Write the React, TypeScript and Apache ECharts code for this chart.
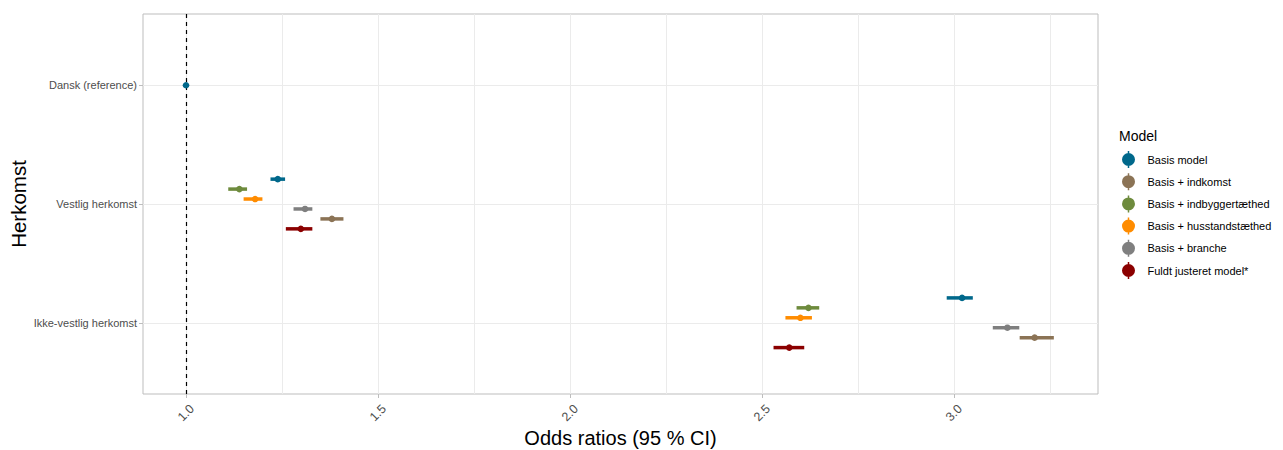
import React, { useEffect, useRef } from "react";
import * as echarts from "echarts";

const categories = ["Dansk (reference)", "Vestlig herkomst", "Ikke-vestlig herkomst"];
const models = [
  "Basis model",
  "Basis + indkomst",
  "Basis + indbyggertæthed",
  "Basis + husstandstæthed",
  "Basis + branche",
  "Fuldt justeret model*",
];
const colors = ["#00688B", "#8B7355", "#6E8B3D", "#FF8C00", "#7F7F7F", "#8B0000"];
// vertical dodge slot (top to bottom) of each model
const dodgeSlot = [0, 4, 1, 2, 3, 5];

// estimates and 95% CI per model, per category (Dansk, Vestlig, Ikke-vestlig)
const estBasis = [1.0, 1.239, 3.021];
const loBasis = [1.0, 1.22, 2.981];
const hiBasis = [1.0, 1.258, 3.049];
const estIndkomst = [null, 1.38, 3.21];
const loIndkomst = [null, 1.35, 3.171];
const hiIndkomst = [null, 1.41, 3.26];
const estIndbygger = [null, 1.139, 2.621];
const loIndbygger = [null, 1.11, 2.59];
const hiIndbygger = [null, 1.159, 2.649];
const estHusstand = [null, 1.18, 2.6];
const loHusstand = [null, 1.15, 2.561];
const hiHusstand = [null, 1.199, 2.63];
const estBranche = [null, 1.31, 3.139];
const loBranche = [null, 1.28, 3.101];
const hiBranche = [null, 1.329, 3.17];
const estFuldt = [null, 1.299, 2.571];
const loFuldt = [null, 1.26, 2.53];
const hiFuldt = [null, 1.329, 2.61];

const estimates = [estBasis, estIndkomst, estIndbygger, estHusstand, estBranche, estFuldt];
const lowers = [loBasis, loIndkomst, loIndbygger, loHusstand, loBranche, loFuldt];
const uppers = [hiBasis, hiIndkomst, hiIndbygger, hiHusstand, hiBranche, hiFuldt];

const xMajorTicks = [1.0, 1.5, 2.0, 2.5, 3.0];
const xMinorTicks = [1.25, 1.75, 2.25, 2.75, 3.25];

const FONT = "Liberation Sans, Arial, sans-serif";
const DODGE_STEP = 0.0837;
const LEGEND_ICON =
  "path://M6.75,0 L8.25,0 L8.25,17 L6.75,17 Z M1,8.5 A6.5,6.5 0 1 1 14,8.5 A6.5,6.5 0 1 1 1,8.5 Z";

export default function App() {
  const ref = useRef<HTMLDivElement>(null);
  useEffect(() => {
    if (!ref.current) return;
    const chart = echarts.init(ref.current, undefined, { renderer: "svg" });

    const series: any[] = [];
    // background grid
    series.push({
      type: "line",
      data: [],
      silent: true,
      z: 1,
      markLine: {
        silent: true,
        symbol: "none",
        label: { show: false },
        animation: false,
        data: [
          ...[...xMajorTicks, ...xMinorTicks].map((v) => ({
            xAxis: v,
            lineStyle: { color: "#ebebeb", width: 1, type: "solid" },
          })),
          ...[1, 2, 3].map((v) => ({
            yAxis: v,
            lineStyle: { color: "#ebebeb", width: 1, type: "solid" },
          })),
        ],
      },
    });
    // reference line at OR = 1
    series.push({
      type: "line",
      data: [],
      silent: true,
      z: 2,
      markLine: {
        silent: true,
        symbol: "none",
        label: { show: false },
        animation: false,
        data: [{ xAxis: 1.0, lineStyle: { color: "#000000", width: 1.2, type: [4, 4] } }],
      },
    });

    models.forEach((m, i) => {
      const data: any[] = [];
      categories.forEach((_c, ci) => {
        const e = estimates[i][ci];
        if (e === null || e === undefined) return;
        const single = estimates.filter((arr) => arr[ci] !== null).length === 1;
        const y = ci + 1 + (single ? 0 : (dodgeSlot[i] - 2.5) * DODGE_STEP);
        data.push([e, lowers[i][ci], uppers[i][ci], y]);
      });
      series.push({
        type: "custom",
        name: m,
        z: 5,
        itemStyle: { color: colors[i] },
        encode: { x: [0, 1, 2], y: 3 },
        renderItem: (params: any, api: any) => {
          const y = api.value(3);
          const p = api.coord([api.value(0), y]);
          const l = api.coord([api.value(1), y]);
          const h = api.coord([api.value(2), y]);
          return {
            type: "group",
            children: [
              {
                type: "line",
                shape: { x1: l[0], y1: l[1], x2: h[0], y2: h[1] },
                style: { stroke: colors[i], lineWidth: 3.5 },
              },
              {
                type: "circle",
                shape: { cx: p[0], cy: p[1], r: 3.3 },
                style: { fill: colors[i] },
              },
            ],
          };
        },
        data,
      });
    });

    chart.setOption({
      animation: false,
      textStyle: { fontFamily: FONT },
      title: {
        text: "Model",
        left: 1114,
        top: 124,
        textStyle: { fontSize: 14, fontWeight: "normal", color: "#000", fontFamily: FONT },
      },
      legend: {
        orient: "vertical",
        left: 1117,
        top: 146,
        itemWidth: 28,
        itemHeight: 17,
        itemGap: 5.2,
        icon: LEGEND_ICON,
        data: models,
        textStyle: { fontSize: 11, color: "#000", fontFamily: FONT },
        selectedMode: false,
      },
      grid: {
        left: 143,
        right: 185,
        top: 14,
        bottom: 56,
        outerBoundsMode: "none",
        containLabel: false,
        show: true,
        borderColor: "#bdbdbd",
        borderWidth: 1,
        backgroundColor: "transparent",
      },
      xAxis: {
        type: "value",
        min: 0.888,
        max: 3.375,
        name: "Odds ratios (95 % CI)",
        nameLocation: "middle",
        nameMoveOverlap: false,
        nameGap: 34,
        nameTextStyle: { fontSize: 20, color: "#000", fontFamily: FONT },
        axisLine: { show: false },
        splitLine: { show: false },
        axisTick: {
          show: true,
          customValues: xMajorTicks,
          length: 4,
          lineStyle: { color: "#bdbdbd" },
        },
        axisLabel: {
          customValues: xMajorTicks,
          formatter: (v: number) => v.toFixed(1),
          rotate: 45,
          align: "center",
          verticalAlign: "middle",
          margin: 19,
          fontSize: 12.5,
          color: "#4d4d4d",
          fontFamily: FONT,
        },
      },
      yAxis: {
        type: "value",
        min: 0.4,
        max: 3.6,
        inverse: true,
        name: "Herkomst",
        nameLocation: "middle",
        nameMoveOverlap: false,
        nameGap: 114,
        nameRotate: 90,
        nameTextStyle: { fontSize: 20.5, color: "#000", fontFamily: FONT },
        axisLine: { show: false },
        splitLine: { show: false },
        axisTick: {
          show: true,
          customValues: [1, 2, 3],
          length: 4,
          lineStyle: { color: "#bdbdbd" },
        },
        axisLabel: {
          customValues: [1, 2, 3],
          formatter: (v: number) => categories[Math.round(v) - 1] ?? "",
          fontSize: 11,
          color: "#4d4d4d",
          margin: 6,
          fontFamily: FONT,
        },
      },
      series,
    });
    return () => chart.dispose();
  }, []);
  return (
    <div
      ref={ref}
      style={{ position: "fixed", left: 0, top: 0, width: 1283, height: 450, background: "#fff" }}
    />
  );
}
